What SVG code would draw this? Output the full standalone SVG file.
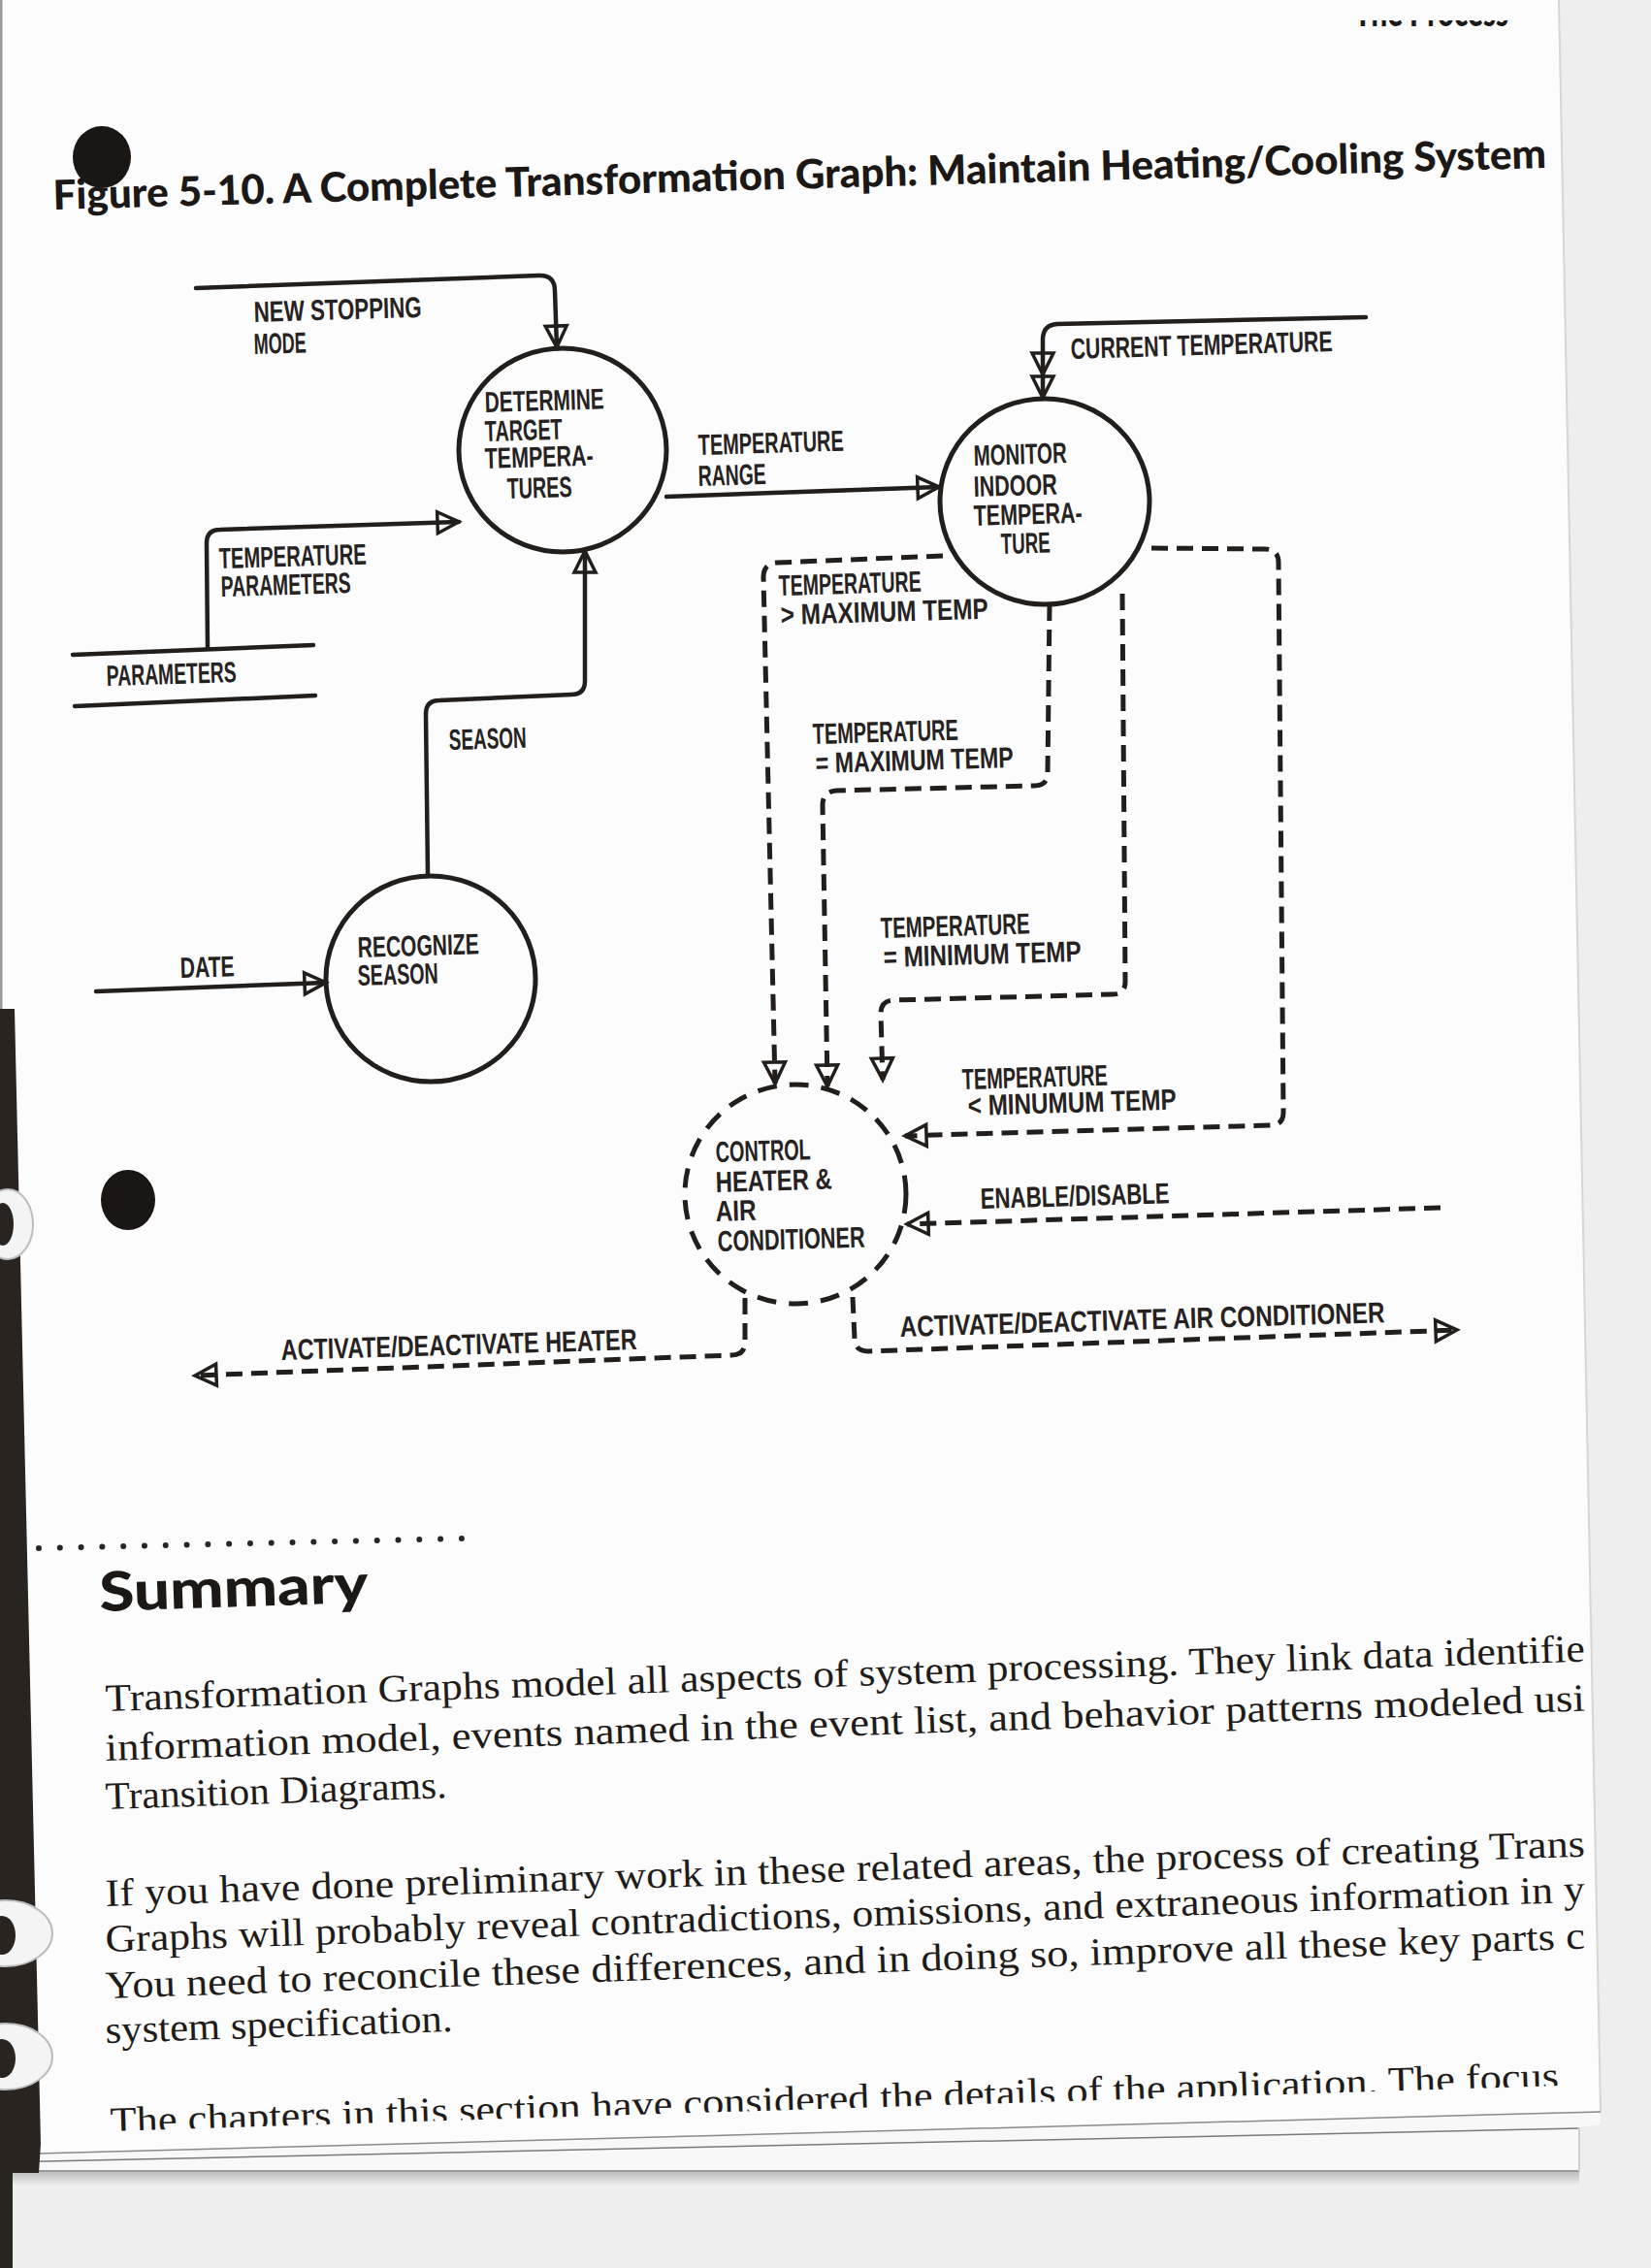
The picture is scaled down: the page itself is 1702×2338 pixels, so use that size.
<svg xmlns="http://www.w3.org/2000/svg" width="1702" height="2338" viewBox="0 0 1702 2338">
<defs>
<style>
.ink{fill:none;stroke:#221e1b;stroke-linecap:round;stroke-linejoin:round}
.flow{stroke-width:4.5}
.ctl{stroke-width:5;stroke-dasharray:17 9;stroke-linecap:butt}
.proc{fill:none;stroke:#221e1b;stroke-width:5}
.cproc{fill:none;stroke:#221e1b;stroke-width:5;stroke-dasharray:20 13}
.lbl{font-family:"Liberation Sans",Arial,sans-serif;font-size:30px;font-weight:700;fill:#26221f}
.title{font-family:Lato,"Open Sans",sans-serif;font-weight:900;font-size:42px;fill:#1c1816}
.head{font-family:Lato,"Open Sans",sans-serif;font-weight:900;font-size:56px;fill:#1c1816}
.body{font-family:"Liberation Serif","Times New Roman",serif;font-size:40px;fill:#1f1b19}
.arrowhead{fill:none;stroke:#221e1b;stroke-width:3.5;stroke-linejoin:miter}
</style>
<marker id="ah" markerUnits="userSpaceOnUse" viewBox="-3 -15 30 30" refX="23" refY="0" markerWidth="30" markerHeight="30" orient="auto" overflow="visible">
<path class="arrowhead" d="M1,-11 L23,0 L1,11 Z"/>
</marker>
<linearGradient id="shadow" x1="0" y1="0" x2="0" y2="1">
<stop offset="0" stop-color="#bdbdbd"/>
<stop offset="1" stop-color="#eeeeee"/>
</linearGradient>
<clipPath id="hdr"><rect x="1380" y="21" width="220" height="10"/></clipPath>
<clipPath id="lastline"><rect x="0" y="2100" width="1800" height="97"/></clipPath>
</defs>

<g id="page">
<rect width="1702" height="2338" fill="#eeeeee"/>
<polygon points="0,0 1607,0 1650,2177 0,2221" fill="#fcfcfc"/>
<line x1="1607" y1="0" x2="1650" y2="2177" stroke="#d6d6d6" stroke-width="2"/>
<polygon points="0,2221 1650,2177 1650,2190 1628,2193 1628,2238 0,2238" fill="#f8f8f8"/>
<line x1="0" y1="2221" x2="1650" y2="2177" stroke="#8a8a8a" stroke-width="1.5"/>
<line x1="0" y1="2229" x2="1628" y2="2194" stroke="#7a7a7a" stroke-width="1.5"/>
<line x1="0" y1="2238" x2="1628" y2="2238" stroke="#9a9a9a" stroke-width="2"/>
<rect x="0" y="2239" width="1628" height="14" fill="url(#shadow)"/>
<line x1="1628" y1="2193" x2="1628" y2="2238" stroke="#cfcfcf" stroke-width="2"/>
<line x1="0" y1="0" x2="0" y2="1040" stroke="#9a9a9a" stroke-width="5"/>
<polygon points="0,1040 15,1040 42,2210 40,2240 13,2240 13,2338 0,2338" fill="#2a2420"/>
<ellipse cx="8" cy="1262" rx="26" ry="36" fill="#f4f4f4" stroke="#bdbdbd" stroke-width="2"/>
<ellipse cx="3" cy="1262" rx="11" ry="22" fill="#2a2420"/>
<ellipse cx="6" cy="1993" rx="48" ry="34" fill="#f4f4f4" stroke="#bdbdbd" stroke-width="2"/>
<ellipse cx="2" cy="1995" rx="14" ry="20" fill="#2a2420"/>
<ellipse cx="6" cy="2120" rx="48" ry="34" fill="#f4f4f4" stroke="#bdbdbd" stroke-width="2"/>
<ellipse cx="2" cy="2122" rx="14" ry="20" fill="#2a2420"/>
<ellipse cx="105" cy="162" rx="30" ry="32" fill="#1a1614"/>
<ellipse cx="132" cy="1237" rx="28" ry="31" fill="#1a1614"/>
<text class="title" x="1396" y="27" clip-path="url(#hdr)" textLength="159" lengthAdjust="spacingAndGlyphs">The Process</text>
</g>

<text id="figure-title" class="title" x="55" y="216" textLength="1540" lengthAdjust="spacingAndGlyphs" transform="rotate(-1.6 55 216)">Figure 5-10. A Complete Transformation Graph: Maintain Heating/Cooling System</text>

<g id="determine">
<ellipse class="proc" cx="580" cy="464" rx="107" ry="105"/>
<text class="lbl" x="500" y="425" textLength="123" lengthAdjust="spacingAndGlyphs" transform="rotate(-1.7 500 425)">DETERMINE</text>
<text class="lbl" x="500" y="455" textLength="80" lengthAdjust="spacingAndGlyphs" transform="rotate(-1.7 500 455)">TARGET</text>
<text class="lbl" x="500" y="483" textLength="112" lengthAdjust="spacingAndGlyphs" transform="rotate(-1.7 500 483)">TEMPERA-</text>
<text class="lbl" x="523" y="514" textLength="67" lengthAdjust="spacingAndGlyphs" transform="rotate(-1.7 523 514)">TURES</text>
</g>

<g id="monitor">
<ellipse class="proc" cx="1077" cy="517" rx="108" ry="106"/>
<text class="lbl" x="1004" y="480" textLength="96" lengthAdjust="spacingAndGlyphs" transform="rotate(-1.7 1004 480)">MONITOR</text>
<text class="lbl" x="1004" y="512" textLength="86" lengthAdjust="spacingAndGlyphs" transform="rotate(-1.7 1004 512)">INDOOR</text>
<text class="lbl" x="1004" y="542" textLength="112" lengthAdjust="spacingAndGlyphs" transform="rotate(-1.7 1004 542)">TEMPERA-</text>
<text class="lbl" x="1032" y="571" textLength="51" lengthAdjust="spacingAndGlyphs" transform="rotate(-1.7 1032 571)">TURE</text>
</g>

<g id="recognize">
<ellipse class="proc" cx="444" cy="1009" rx="108" ry="106"/>
<text class="lbl" x="369" y="987" textLength="125" lengthAdjust="spacingAndGlyphs" transform="rotate(-1.7 369 987)">RECOGNIZE</text>
<text class="lbl" x="369" y="1016" textLength="83" lengthAdjust="spacingAndGlyphs" transform="rotate(-1.7 369 1016)">SEASON</text>
</g>

<g id="control">
<ellipse class="cproc" cx="820" cy="1231" rx="114" ry="113"/>
<text class="lbl" x="738" y="1198" textLength="98" lengthAdjust="spacingAndGlyphs" transform="rotate(-1.7 738 1198)">CONTROL</text>
<text class="lbl" x="738" y="1229" textLength="120" lengthAdjust="spacingAndGlyphs" transform="rotate(-1.7 738 1229)">HEATER &amp;</text>
<text class="lbl" x="738" y="1259" textLength="42" lengthAdjust="spacingAndGlyphs" transform="rotate(-1.7 738 1259)">AIR</text>
<text class="lbl" x="740" y="1290" textLength="152" lengthAdjust="spacingAndGlyphs" transform="rotate(-1.7 740 1290)">CONDITIONER</text>
</g>

<g id="store-parameters">
<line class="ink flow" x1="75" y1="675" x2="323" y2="665"/>
<line class="ink flow" x1="77" y1="728" x2="325" y2="717"/>
<text class="lbl" x="110" y="707" textLength="134" lengthAdjust="spacingAndGlyphs" transform="rotate(-1.7 110 707)">PARAMETERS</text>
</g>

<g id="connectors">
<g id="c-new-stopping-mode">
<path class="ink flow" d="M202,297 L555,284 Q572,283 572,300 L574,358" marker-end="url(#ah)"/>
<text class="lbl" x="262" y="332" textLength="173" lengthAdjust="spacingAndGlyphs" transform="rotate(-1.7 262 332)">NEW STOPPING</text>
<text class="lbl" x="262" y="365" textLength="54" lengthAdjust="spacingAndGlyphs" transform="rotate(-1.7 262 365)">MODE</text>
</g>
<g id="c-temperature-parameters">
<path class="ink flow" d="M214,667 L213,560 Q213,546 227,546 L473,538" marker-end="url(#ah)"/>
<text class="lbl" x="226" y="586" textLength="152" lengthAdjust="spacingAndGlyphs" transform="rotate(-1.7 226 586)">TEMPERATURE</text>
<text class="lbl" x="228" y="615" textLength="134" lengthAdjust="spacingAndGlyphs" transform="rotate(-1.7 228 615)">PARAMETERS</text>
</g>
<g id="c-season">
<path class="ink flow" d="M441,903 L439,736 Q439,722 453,722 L589,716 Q603,716 603,702 L603,568" marker-end="url(#ah)"/>
<text class="lbl" x="463" y="773" textLength="80" lengthAdjust="spacingAndGlyphs" transform="rotate(-1.7 463 773)">SEASON</text>
</g>
<g id="c-date">
<path class="ink flow" d="M99,1022 L336,1013" marker-end="url(#ah)"/>
<text class="lbl" x="186" y="1008" textLength="56" lengthAdjust="spacingAndGlyphs" transform="rotate(-1.7 186 1008)">DATE</text>
</g>
<g id="c-temperature-range">
<path class="ink flow" d="M687,512 L968,502" marker-end="url(#ah)"/>
<text class="lbl" x="720" y="469" textLength="150" lengthAdjust="spacingAndGlyphs" transform="rotate(-1.7 720 469)">TEMPERATURE</text>
<text class="lbl" x="720" y="501" textLength="70" lengthAdjust="spacingAndGlyphs" transform="rotate(-1.7 720 501)">RANGE</text>
</g>
<g id="c-current-temperature">
<path class="ink flow" d="M1408,327 L1090,334 Q1075,335 1075,350 L1075,410" marker-end="url(#ah)"/>
<path class="arrowhead" d="M1064,364 L1086,364 L1075,386 Z"/>
<text class="lbl" x="1104" y="370" textLength="270" lengthAdjust="spacingAndGlyphs" transform="rotate(-1.7 1104 370)">CURRENT TEMPERATURE</text>
</g>
<g id="c-temp-gt-max">
<path class="ink ctl" d="M972,573 L801,580 Q787,581 787,595 L799,1117" marker-end="url(#ah)"/>
<text class="lbl" x="803" y="614" textLength="147" lengthAdjust="spacingAndGlyphs" transform="rotate(-1.7 803 614)">TEMPERATURE</text>
<text class="lbl" x="805" y="644" textLength="214" lengthAdjust="spacingAndGlyphs" transform="rotate(-1.7 805 644)">&gt; MAXIMUM TEMP</text>
</g>
<g id="c-temp-eq-max">
<path class="ink ctl" d="M1082,623 L1080,797 Q1080,810 1066,810 L862,815 Q848,816 848,830 L853,1120" marker-end="url(#ah)"/>
<text class="lbl" x="838" y="767" textLength="150" lengthAdjust="spacingAndGlyphs" transform="rotate(-1.7 838 767)">TEMPERATURE</text>
<text class="lbl" x="841" y="797" textLength="204" lengthAdjust="spacingAndGlyphs" transform="rotate(-1.7 841 797)">= MAXIMUM TEMP</text>
</g>
<g id="c-temp-eq-min">
<path class="ink ctl" d="M1157,612 L1160,1012 Q1160,1025 1147,1025 L922,1031 Q908,1031 908,1045 L910,1113" marker-end="url(#ah)"/>
<text class="lbl" x="908" y="967" textLength="154" lengthAdjust="spacingAndGlyphs" transform="rotate(-1.7 908 967)">TEMPERATURE</text>
<text class="lbl" x="911" y="997" textLength="204" lengthAdjust="spacingAndGlyphs" transform="rotate(-1.7 911 997)">= MINIMUM TEMP</text>
</g>
<g id="c-temp-lt-min">
<path class="ink ctl" d="M1187,565 L1304,566 Q1318,566 1318,580 L1323,1147 Q1323,1160 1309,1160 L933,1171" marker-end="url(#ah)"/>
<text class="lbl" x="992" y="1123" textLength="150" lengthAdjust="spacingAndGlyphs" transform="rotate(-1.7 992 1123)">TEMPERATURE</text>
<text class="lbl" x="998" y="1150" textLength="215" lengthAdjust="spacingAndGlyphs" transform="rotate(-1.7 998 1150)">&lt; MINUMUM TEMP</text>
</g>
<g id="c-enable-disable">
<path class="ink ctl" d="M1485,1245 L935,1262" marker-end="url(#ah)"/>
<text class="lbl" x="1011" y="1246" textLength="195" lengthAdjust="spacingAndGlyphs" transform="rotate(-1.7 1011 1246)">ENABLE/DISABLE</text>
</g>
<g id="c-activate-air-conditioner">
<path class="ink ctl" d="M879,1337 L881,1380 Q881,1393 895,1393 L1502,1371" marker-end="url(#ah)"/>
<text class="lbl" x="928" y="1378" textLength="500" lengthAdjust="spacingAndGlyphs" transform="rotate(-1.7 928 1378)">ACTIVATE/DEACTIVATE AIR CONDITIONER</text>
</g>
<g id="c-activate-heater">
<path class="ink ctl" d="M768,1338 L768,1383 Q768,1397 754,1397 L201,1418" marker-end="url(#ah)"/>
<text class="lbl" x="290" y="1402" textLength="367" lengthAdjust="spacingAndGlyphs" transform="rotate(-1.7 290 1402)">ACTIVATE/DEACTIVATE HEATER</text>
</g>
</g>

<g id="summary">
<line x1="40" y1="1596" x2="476" y2="1586" stroke="#2a2522" stroke-width="6" stroke-linecap="round" stroke-dasharray="0 21.8"/>
<text class="head" x="103" y="1661" textLength="277" lengthAdjust="spacingAndGlyphs" transform="rotate(-1.9 103 1661)">Summary</text>
<text class="body" x="109" y="1764" textLength="1526" lengthAdjust="spacingAndGlyphs" transform="rotate(-1.93 109 1764)">Transformation Graphs model all aspects of system processing. They link data identifie</text>
<text class="body" x="109" y="1815" textLength="1526" lengthAdjust="spacingAndGlyphs" transform="rotate(-1.93 109 1815)">information model, events named in the event list, and behavior patterns modeled usi</text>
<text class="body" x="109" y="1865" textLength="352" lengthAdjust="spacingAndGlyphs" transform="rotate(-1.93 109 1865)">Transition Diagrams.</text>
<text class="body" x="109" y="1965" textLength="1526" lengthAdjust="spacingAndGlyphs" transform="rotate(-1.93 109 1965)">If you have done preliminary work in these related areas, the process of creating Trans</text>
<text class="body" x="109" y="2012" textLength="1526" lengthAdjust="spacingAndGlyphs" transform="rotate(-1.93 109 2012)">Graphs will probably reveal contradictions, omissions, and extraneous information in y</text>
<text class="body" x="109" y="2060" textLength="1526" lengthAdjust="spacingAndGlyphs" transform="rotate(-1.93 109 2060)">You need to reconcile these differences, and in doing so, improve all these key parts c</text>
<text class="body" x="109" y="2106" textLength="358" lengthAdjust="spacingAndGlyphs" transform="rotate(-1.93 109 2106)">system specification.</text>
<g transform="rotate(-1.8 114 2200)">
<text class="body" x="114" y="2200" textLength="1494" lengthAdjust="spacingAndGlyphs" clip-path="url(#lastline)">The chapters in this section have considered the details of the application. The focus</text>
</g>
</g>
</svg>
